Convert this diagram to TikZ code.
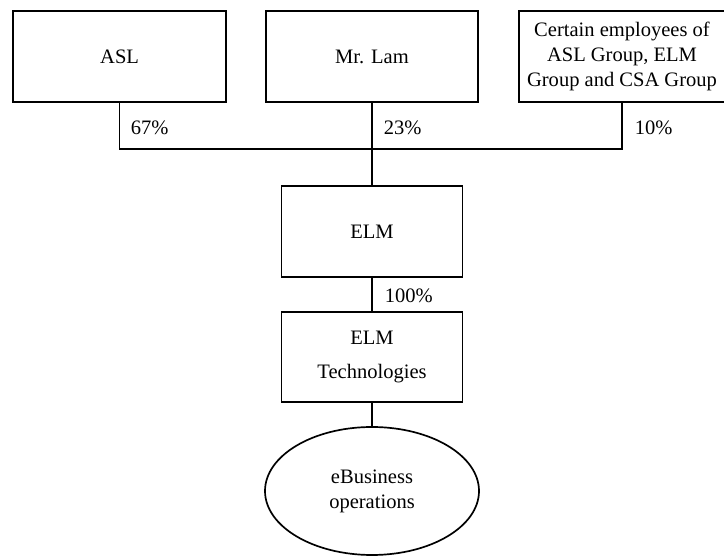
\documentclass[tikz,border=0pt]{standalone}
\usepackage{fontspec}
\setmainfont{Liberation Serif}
\usetikzlibrary{shapes.geometric}
\tikzset{
  ownbox/.style={draw, line width=1.2pt, align=center, inner sep=0pt,
    font=\fontsize{14.6}{17.8}\selectfont},
  bizoval/.style={ownbox, ellipse},
  share/.style={anchor=west, inner sep=0pt, font=\fontsize{14.6}{16}\selectfont},
}
\begin{document}
\begin{tikzpicture}[line width=1.2pt]
\useasboundingbox (0,0) rectangle (18.1,13.925);
% shareholders
\node[ownbox, minimum width=5.325cm, minimum height=2.275cm] (asl) at (2.99,12.51) {ASL};
\node[ownbox, minimum width=5.3cm, minimum height=2.275cm] (lam) at (9.3,12.51) {Mr. Lam};
\node[ownbox, minimum width=5.15cm, minimum height=2.275cm] (staff) at (15.55,12.51)
  {Certain employees of\\ASL Group, ELM\\Group and CSA Group};
% ELM and below
\node[ownbox, minimum width=4.525cm, minimum height=2.275cm] (elm) at (9.3,8.14) {ELM};
\node[ownbox, minimum width=4.525cm, minimum height=2.25cm] (elmtech) at (9.3,5.0)
  {ELM\\[0.2cm]Technologies};
\node[bizoval, minimum width=5.35cm, minimum height=3.2cm] (ebiz) at (9.3,1.65)
  {eBusiness\\operations};
\coordinate (bus) at (0,10.2);
\draw (asl.south) -- (asl.south |- bus) -- (staff.south |- bus) -- (staff.south);
\draw (lam.south) -- (elm.north);
\draw (elm.south) -- (elmtech.north);
\draw (elmtech.south) -- (ebiz.north);
% percentages
\node[share] (p67) at (3.25,10.725) {67\%};
\node[share] (p23) at (9.575,10.725) {23\%};
\node[share] (p10) at (15.85,10.725) {10\%};
\node[share] (p100) at (9.6,6.525) {100\%};
\end{tikzpicture}
\end{document}
